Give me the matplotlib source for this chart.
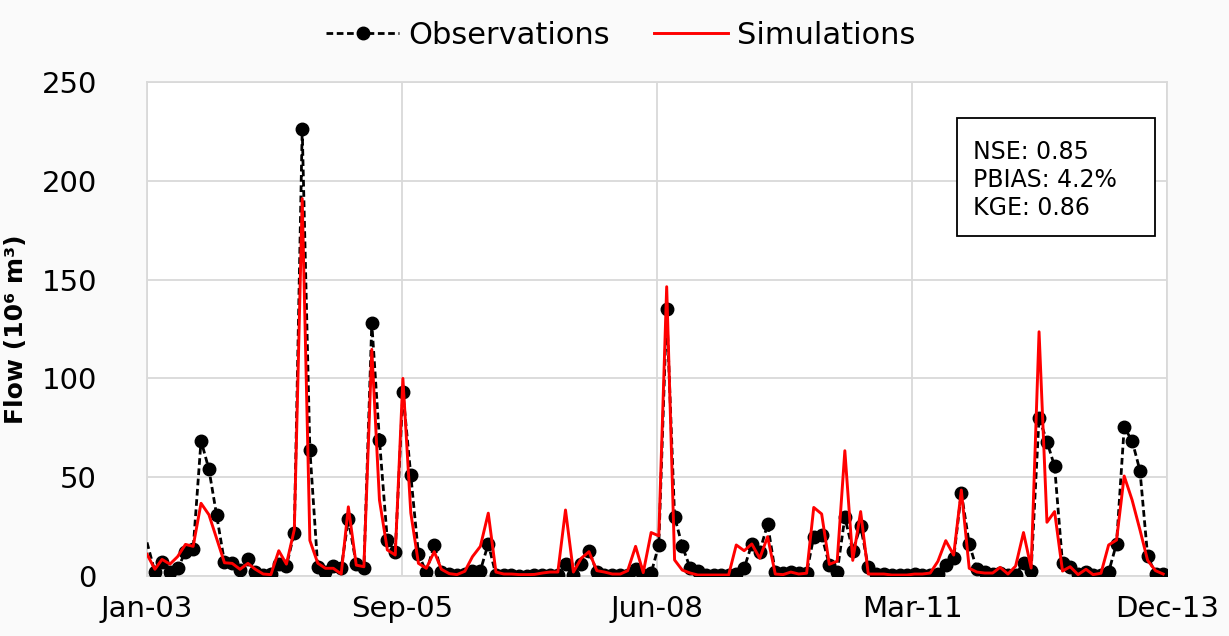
import numpy as np
import pandas as pd
import matplotlib
matplotlib.use("Agg")
import matplotlib.pyplot as plt
import matplotlib.dates as mdates

# monthly flows (10^6 m3), Jan 2003 - Dec 2013
obs = [17, 2, 7, 2, 4, 12, 13.5, 68.5, 54, 31,
       7, 6.5, 3, 8.5, 2, 0.5, 1, 6, 5, 22,
       226, 64, 4.5, 2, 5, 4, 28.7, 6, 4, 128,
       69, 18, 12.3, 93, 51, 11, 2, 15.7, 2, 1,
       0.3, 1, 2.7, 2.7, 16.4, 0.5, 0.3, 0.3, 0.2, 0.2,
       0.3, 0.3, 0.5, 0.5, 6, 0.7, 6, 12.8, 2, 0.7,
       0.5, 0.5, 0.7, 3.6, 0.3, 1.4, 15.7, 135, 30, 15.3,
       4, 2.5, 0.5, 0.3, 0.3, 0.3, 1, 3.9, 16.2, 12.3,
       26.3, 2, 1.5, 2, 1.5, 1.5, 19.9, 20.6, 5.6, 2,
       29.7, 12.8, 25.3, 4.4, 1, 0.8, 0.5, 0.5, 0.5, 1,
       0.5, 0.5, 1, 5.6, 9, 42.2, 16.2, 3.4, 2, 1,
       1.5, 0.5, 0.5, 6.8, 2.7, 80.2, 68, 55.5, 6.4, 4.5,
       1, 2, 0.3, 0.3, 2, 16.4, 75.2, 68.5, 53.3, 10.1,
       1, 1]

sim = [11, 3.4, 8.4, 6, 9.8, 16, 15, 36.8, 31, 19,
       6.7, 6.4, 3.4, 6.4, 3.4, 1, 0.7, 12.8, 6, 23.5,
       191, 18, 6.5, 3.9, 3.9, 1, 35, 5.5, 4.7, 114.7,
       38.5, 13.2, 10.6, 100, 31.9, 6.4, 3.9, 12.3, 3.4, 1.2,
       0.7, 2.4, 9.8, 15, 31.8, 2, 1, 1, 0.7, 0.7,
       0.8, 1.5, 2, 2, 33.4, 2, 9, 12.3, 2.7, 2,
       1, 1, 2.7, 15, 1.7, 22, 20.3, 146.4, 8.1, 3,
       1.5, 0.5, 0.5, 0.5, 0.5, 0.5, 15.7, 12.8, 16.2, 9,
       19.9, 1, 0.7, 2, 1, 1.4, 34.7, 31.4, 5.9, 7.5,
       63.4, 7.9, 32.6, 1, 1, 1, 0.5, 0.5, 0.5, 1,
       1, 1.5, 7.4, 17.9, 10.6, 43.5, 3.9, 2, 1.5, 1.5,
       4.4, 1, 5, 22, 4, 123.6, 27.2, 32.6, 2.5, 4.7,
       0.7, 3.4, 0.7, 1.4, 15.7, 18.2, 50.6, 38.5, 23.3, 7.9,
       2.7, 1]

stats_text = "NSE: 0.85\nPBIAS: 4.2%\nKGE: 0.86"

dates = pd.date_range("2003-01-01", periods=len(obs), freq="MS")
x0 = pd.Timestamp("2003-01-01")
x1 = x0 + pd.Timedelta(days=4002)

fig = plt.figure(figsize=(12.29, 6.36), dpi=100)
fig.patch.set_facecolor("#fafafa")
ax = fig.add_axes([147/1229, 1 - 576/636, 1020/1229, 494/636])
ax.set_facecolor("white")

ax.plot(dates, obs, color="black", linestyle=(0, (2.4, 1.3)), linewidth=2.0,
        marker="o", markersize=9, markevery=range(1, len(obs)),
        label="Observations", zorder=3)
ax.plot(dates, sim, color="#ff0000", linewidth=2.1, label="Simulations", zorder=4)

ax.set_xlim(x0, x1)
ax.set_ylim(0, 250)
ax.set_yticks(np.arange(0, 251, 50))
ticks = np.linspace(mdates.date2num(x0), mdates.date2num(x1), 5)
ax.set_xticks(ticks)
ax.xaxis.set_major_formatter(mdates.DateFormatter("%b-%y"))

ax.grid(True, color="#d9d9d9", linewidth=1.3)
ax.set_axisbelow(True)
for s in ax.spines.values():
    s.set_color("#d9d9d9")
    s.set_linewidth(1.3)
ax.tick_params(axis="both", length=0, labelsize=21, colors="black")
ax.tick_params(axis="y", pad=36)
ax.tick_params(axis="x", pad=14)

ax.set_ylabel("Flow (10⁶ m³)", fontsize=18, fontweight="bold", labelpad=10)

ax.text(0.81, 0.802, stats_text, transform=ax.transAxes, fontsize=17,
        va="center", ha="left", linespacing=1.2, zorder=6)
box = plt.Rectangle((0.794, 0.688), 0.194, 0.239, transform=ax.transAxes,
                    facecolor="white", edgecolor="black", linewidth=1.3, zorder=5)
ax.add_patch(box)

fig.legend(loc="upper center", bbox_to_anchor=(0.505, 1.01), ncol=2, frameon=False,
           fontsize=22, handlelength=2.4, columnspacing=1.45, handletextpad=0.3)

fig.savefig("out.png", dpi=100, facecolor=fig.get_facecolor())
